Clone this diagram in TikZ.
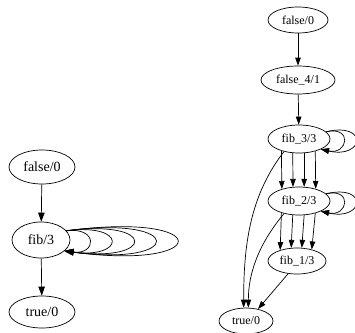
\documentclass[tikz,border=0pt]{standalone}
\usepackage{fontspec}
\setmainfont{Liberation Serif}
\usetikzlibrary{shapes.geometric,arrows.meta}

\tikzstyle{big_state}=[ellipse,draw=black,line width=0.7pt,inner sep=0pt,font=\fontsize{14}{16}\selectfont]
\tikzstyle{small_state}=[ellipse,draw=black,line width=0.7pt,inner sep=0pt,font=\fontsize{12}{14}\selectfont]
\tikzstyle{big_edge}=[line width=0.7pt,-{Triangle[length=9pt,width=6.5pt]}]
\tikzstyle{small_edge}=[line width=0.7pt,-{Triangle[length=8pt,width=5.5pt]}]

\begin{document}
\begin{tikzpicture}[x=1pt,y=-1pt]

\useasboundingbox (0,0) rectangle (355,332);

\node [big_state,minimum width=66pt,minimum height=34pt] (state01) at (42,167) {false/0};
\node [big_state,minimum width=58pt,minimum height=36pt] (state02) at (41,240) {fib/3};
\node [big_state,minimum width=66pt,minimum height=32pt] (state03) at (42,312) {true/0};

\node [small_state,minimum width=60pt,minimum height=26pt] (state11) at (298,20) {false/0};
\node [small_state,minimum width=74pt,minimum height=28pt] (state12) at (298,80) {false\_4/1};
\node [small_state,minimum width=62pt,minimum height=28pt] (state13) at (299,139) {fib\_3/3};
\node [small_state,minimum width=62pt,minimum height=28pt] (state14) at (299,201) {fib\_2/3};
\node [small_state,minimum width=58pt,minimum height=26pt] (state15) at (297,261) {fib\_1/3};
\node [small_state,minimum width=54pt,minimum height=26pt] (state16) at (246,321) {true/0};

\draw[big_edge] (state01) -- (state02);
\draw[big_edge] (state02) -- (state03);

\foreach \w/\h in {32/4,61/8,91/12,120/16,149/20}
  \draw[big_edge] (state02.20) .. controls +(\w,-\h) and +(\w,\h) .. (state02.-25);

\draw[small_edge] (state11) -- (state12);
\draw[small_edge] (state12) -- (state13);

\foreach \w/\h in {27/6,43/10}
  \draw[small_edge] (state13.15) .. controls +(\w,-\h) and +(\w,\h) .. (state13.-25);
\foreach \w/\h in {27/6,43/10}
  \draw[small_edge] (state14.15) .. controls +(\w,-\h) and +(\w,\h) .. (state14.-25);

\foreach \a/\b in {214.5/145.5,246.4/113.6,290/70,323.1/36.9}
  \draw[small_edge] (state13.\a) -- (state14.\b);
\foreach \a/\b in {214.5/147,246.4/114,290/70,323.1/38}
  \draw[small_edge] (state14.\a) -- (state15.\b);

\draw[small_edge] (state13.220) .. controls +(-35,45) and +(0,-60) .. (state16.100);
\draw[small_edge] (state14.220) .. controls +(-25,30) and +(0,-35) .. (state16.80);
\draw[small_edge] (state15.235) -- (state16.45);

\end{tikzpicture}
\end{document}
